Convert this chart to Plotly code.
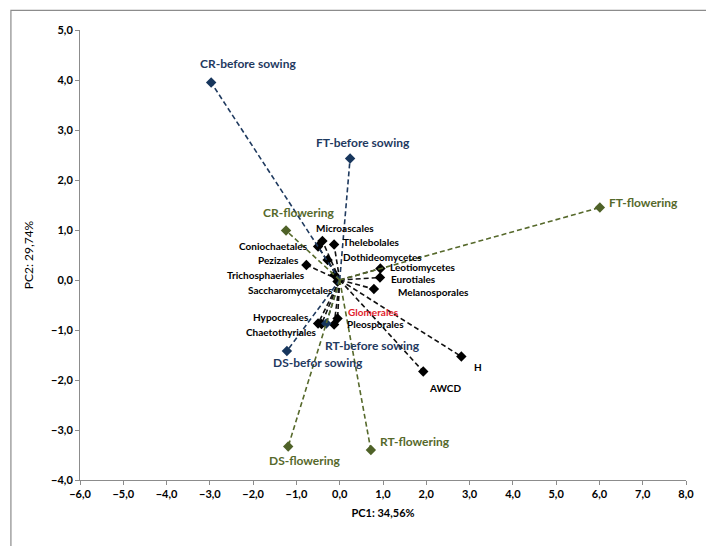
import plotly.graph_objects as go

# ---- data ----
before_names = ["CR-before sowing", "FT-before sowing", "RT-before sowing", "DS-befor sowing"]
before_x = [-2.97, 0.24, -0.31, -1.22]
before_y = [3.95, 2.43, -0.87, -1.42]

flower_names = ["CR-flowering", "FT-flowering", "RT-flowering", "DS-flowering"]
flower_x = [-1.24, 6.01, 0.72, -1.19]
flower_y = [0.99, 1.45, -3.40, -3.33]

var_names = ["Microascales", "Coniochaetales", "Thelebolales", "Dothideomycetes", "Pezizales",
             "Trichosphaeriales", "Saccharomycetales", "Leotiomycetes", "Eurotiales",
             "Melanosporales", "Glomerales", "Pleosporales", "Hypocreales", "Chaetothyriales",
             "H", "AWCD"]
var_x = [-0.40, -0.50, -0.13, -0.28, -0.77, -0.12, -0.05, 0.94, 0.93, 0.79, -0.05, -0.13,
         -0.50, -0.42, 2.81, 1.93]
var_y = [0.78, 0.67, 0.71, 0.40, 0.30, 0.10, -0.03, 0.23, 0.05, -0.18, -0.77, -0.89,
         -0.87, -0.88, -1.53, -1.83]

x_ticks = [-6, -5, -4, -3, -2, -1, 0, 1, 2, 3, 4, 5, 6, 7, 8]
y_ticks = [-4, -3, -2, -1, 0, 1, 2, 3, 4, 5]

# ---- style ----
NAVY = "#1F3A5F"
OLIVE = "#56692B"
FONT = "Lato"

# label placement: (anchor, dx px, dy px screen-down)
label_pos = {
    "CR-before sowing": ("center", 37, -19),
    "FT-before sowing": ("center", 13, -16),
    "RT-before sowing": ("left", -3, 22),
    "DS-befor sowing": ("left", -16, 11),
    "CR-flowering": ("center", 12, -18),
    "FT-flowering": ("left", 7, -5),
    "RT-flowering": ("left", 7, -9),
    "DS-flowering": ("center", 17, 14),
    "Microascales": ("center", 23, -13),
    "Coniochaetales": ("right", -8, -1),
    "Thelebolales": ("left", 7, -3),
    "Dothideomycetes": ("left", 13, -3),
    "Pezizales": ("right", -5, -5),
    "Trichosphaeriales": ("right", -28, 0),
    "Saccharomycetales": ("right", -3, 8),
    "Leotiomycetes": ("left", 8, -2),
    "Eurotiales": ("left", 9, 1),
    "Melanosporales": ("left", 22, 3),
    "Glomerales": ("left", 8, -7),
    "Pleosporales": ("left", 11, -1),
    "Hypocreales": ("right", -7, -7),
    "Chaetothyriales": ("right", -3, 8),
    "H": ("center", 17, 10),
    "AWCD": ("center", 22, 16),
}

fig = go.Figure()
dash = "5px,3px"

def add_group(names, xs, ys, line_color, marker_color, msize):
    for n, x, y in zip(names, xs, ys):
        fig.add_trace(go.Scatter(x=[0, x], y=[0, y], mode="lines",
                                 line=dict(color=line_color, width=1.6, dash=dash),
                                 hoverinfo="skip", showlegend=False))
    fig.add_trace(go.Scatter(x=xs, y=ys, mode="markers", text=names,
                             marker=dict(symbol="diamond", size=msize, color=marker_color),
                             showlegend=False))

add_group(var_names, var_x, var_y, "#111111", "#000000", 8)
add_group(before_names, before_x, before_y, NAVY, "#17365D", 8)
add_group(flower_names, flower_x, flower_y, OLIVE, "#4F6228", 8)

annotations = []
def add_labels(names, xs, ys, color, size):
    for n, x, y in zip(names, xs, ys):
        anchor, dx, dy = label_pos[n]
        c = color
        if n == "Glomerales":
            c = "#E0202A"
        annotations.append(dict(x=x, y=y, xref="x", yref="y", text="<b>%s</b>" % n,
                                showarrow=False, xanchor=anchor, yanchor="middle",
                                xshift=dx, yshift=-dy,
                                font=dict(family=FONT, size=size, color=c)))

add_labels(var_names, var_x, var_y, "#000000", 10)
add_labels(before_names, before_x, before_y, NAVY, 12)
add_labels(flower_names, flower_x, flower_y, OLIVE, 12)

fig.update_layout(
    width=714, height=546,
    margin=dict(l=72, r=36, t=22, b=74, autoexpand=False),
    paper_bgcolor="white", plot_bgcolor="white",
    separators=",.",
    font=dict(family=FONT, color="#000000"),
    annotations=annotations,
    shapes=[dict(type="rect", xref="paper", yref="paper",
                 x0=-0.114, x1=1.0555, y0=-0.160, y1=1.0435,
                 line=dict(color="#8C8C8C", width=1.2))],
)
fig.update_xaxes(range=[-6, 8], tickvals=x_ticks, tickformat=".1f",
                 showgrid=False, zeroline=False, showline=True, linecolor="#8C8C8C",
                 linewidth=1, ticks="outside", ticklen=4, tickcolor="#8C8C8C",
                 tickfont=dict(family=FONT, size=11, color="#000000", weight="bold"),
                 title=dict(text="<b>PC1: 34,56%</b>", font=dict(family=FONT, size=11),
                            standoff=10))
fig.update_yaxes(range=[-4, 5], tickvals=y_ticks, tickformat=".1f",
                 showgrid=False, zeroline=False, showline=True, linecolor="#8C8C8C",
                 linewidth=1, ticks="outside", ticklen=4, tickcolor="#8C8C8C",
                 tickfont=dict(family=FONT, size=11, color="#000000", weight="bold"),
                 title=dict(text="PC2: 29,74%", font=dict(family=FONT, size=12),
                            standoff=14))

fig.write_html("out.html")
